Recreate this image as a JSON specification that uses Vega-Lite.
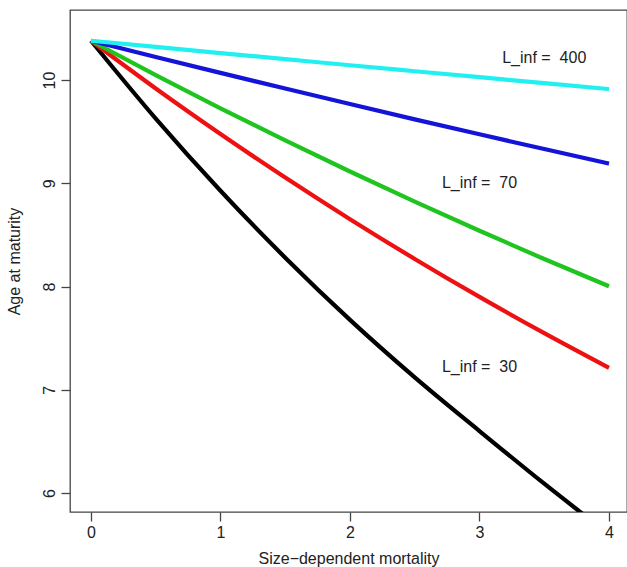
{
  "$schema": "https://vega.github.io/schema/vega-lite/v6.json",
  "width": 557,
  "height": 502,
  "autosize": {"type": "none"},
  "padding": {"left": 70, "top": 10, "right": 0, "bottom": 55},
  "background": "white",
  "config": {
    "view": {"stroke": "#444444", "strokeWidth": 1.3},
    "font": "Liberation Sans",
    "axis": {
      "grid": false,
      "domain": false,
      "tickColor": "#444444",
      "tickWidth": 1.3,
      "tickSize": 9,
      "labelFontSize": 16,
      "titleFontSize": 16,
      "titleFontWeight": "normal",
      "labelColor": "#222222",
      "titleColor": "#222222",
      "labelFont": "Liberation Sans",
      "titleFont": "Liberation Sans"
    }
  },
  "datasets": {
    "curves": [
      {"m": 0, "age": 10.38, "series": "black"},
      {"m": 0.5, "age": 9.626, "series": "black"},
      {"m": 1, "age": 8.927, "series": "black"},
      {"m": 1.5, "age": 8.279, "series": "black"},
      {"m": 2, "age": 7.677, "series": "black"},
      {"m": 2.5, "age": 7.12, "series": "black"},
      {"m": 3, "age": 6.6, "series": "black"},
      {"m": 3.5, "age": 6.09, "series": "black"},
      {"m": 4, "age": 5.6, "series": "black"},
      {"m": 0, "age": 10.38, "series": "red"},
      {"m": 0.5, "age": 9.918, "series": "red"},
      {"m": 1, "age": 9.477, "series": "red"},
      {"m": 1.5, "age": 9.055, "series": "red"},
      {"m": 2, "age": 8.652, "series": "red"},
      {"m": 2.5, "age": 8.267, "series": "red"},
      {"m": 3, "age": 7.899, "series": "red"},
      {"m": 3.5, "age": 7.548, "series": "red"},
      {"m": 4, "age": 7.212, "series": "red"},
      {"m": 0, "age": 10.38, "series": "green"},
      {"m": 0.5, "age": 10.048, "series": "green"},
      {"m": 1, "age": 9.726, "series": "green"},
      {"m": 1.5, "age": 9.415, "series": "green"},
      {"m": 2, "age": 9.114, "series": "green"},
      {"m": 2.5, "age": 8.822, "series": "green"},
      {"m": 3, "age": 8.54, "series": "green"},
      {"m": 3.5, "age": 8.266, "series": "green"},
      {"m": 4, "age": 8.002, "series": "green"},
      {"m": 0, "age": 10.38, "series": "blue"},
      {"m": 0.5, "age": 10.223, "series": "blue"},
      {"m": 1, "age": 10.069, "series": "blue"},
      {"m": 1.5, "age": 9.917, "series": "blue"},
      {"m": 2, "age": 9.767, "series": "blue"},
      {"m": 2.5, "age": 9.619, "series": "blue"},
      {"m": 3, "age": 9.474, "series": "blue"},
      {"m": 3.5, "age": 9.331, "series": "blue"},
      {"m": 4, "age": 9.19, "series": "blue"},
      {"m": 0, "age": 10.38, "series": "cyan"},
      {"m": 0.5, "age": 10.32, "series": "cyan"},
      {"m": 1, "age": 10.261, "series": "cyan"},
      {"m": 1.5, "age": 10.202, "series": "cyan"},
      {"m": 2, "age": 10.143, "series": "cyan"},
      {"m": 2.5, "age": 10.085, "series": "cyan"},
      {"m": 3, "age": 10.027, "series": "cyan"},
      {"m": 3.5, "age": 9.969, "series": "cyan"},
      {"m": 4, "age": 9.912, "series": "cyan"}
    ],
    "labels": [
      {"m": 3.5, "age": 10.21, "label": "L_inf =\u00a0 400"},
      {"m": 3.0, "age": 9.0, "label": "L_inf =\u00a0 70"},
      {"m": 3.0, "age": 7.22, "label": "L_inf =\u00a0 30"}
    ]
  },
  "layer": [
    {
      "data": {"name": "curves"},
      "mark": {"type": "line", "strokeWidth": 4.2, "interpolate": "monotone", "clip": true},
      "encoding": {
        "x": {
          "field": "m", "type": "quantitative",
          "scale": {"domain": [-0.162, 4.139], "nice": false, "zero": false},
          "axis": {"values": [0, 1, 2, 3, 4], "format": "d", "labelPadding": 3, "title": "Size\u2212dependent mortality", "titlePadding": 10}
        },
        "y": {
          "field": "age", "type": "quantitative",
          "scale": {"domain": [5.816, 10.678], "nice": false, "zero": false},
          "axis": {"values": [6, 7, 8, 9, 10], "format": "d", "labelAngle": -90, "labelPadding": 4, "title": "Age at maturity", "titlePadding": 19}
        },
        "color": {
          "field": "series", "type": "nominal",
          "scale": {"domain": ["black", "red", "green", "blue", "cyan"], "range": ["#000000", "#ee1111", "#1fc41f", "#1414d8", "#22f0f0"]},
          "legend": null
        }
      }
    },
    {
      "data": {"name": "labels"},
      "mark": {"type": "text", "fontSize": 16, "font": "Liberation Sans", "color": "#222222", "align": "center", "baseline": "middle"},
      "encoding": {
        "x": {"field": "m", "type": "quantitative"},
        "y": {"field": "age", "type": "quantitative"},
        "text": {"field": "label"}
      }
    }
  ]
}
